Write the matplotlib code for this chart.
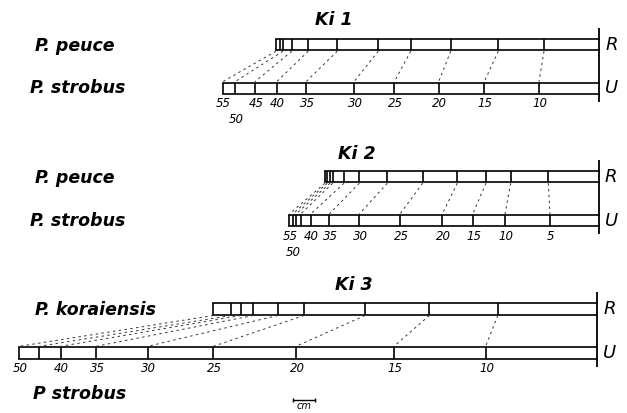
import matplotlib.pyplot as plt

# Ring boundaries along the stem (diagram units, left edge = pixel-ish position)
# R = rootstock (top bar), U = scion P. strobus (bottom bar)
ki1_r = [276, 283, 291.7, 308.3, 337.3, 378.3, 410.7, 450.7, 498.3, 544]
ki1_r_extra = [280]
ki1_u = [222.7, 235, 255, 276.7, 306, 354, 394.3, 438.7, 484.3, 539]
ki1_labels = ["55", "50", "45", "40", "35", "30", "25", "20", "15", "10"]
ki1_label_idx = [0, 1, 2, 3, 4, 5, 6, 7, 8, 9]
ki1_end = 599.3

ki2_r = [325, 327.3, 330, 332.7, 344, 359.3, 387.3, 422.7, 457.3, 486, 510.7, 548.3]
ki2_r_extra = []
ki2_u = [289.3, 292.7, 296, 300.7, 310.7, 329.3, 359.3, 400, 442.3, 472.7, 505, 550]
ki2_labels = ["55", "50", "40", "35", "30", "25", "20", "15", "10", "5"]
ki2_label_idx = [0, 1, 4, 5, 6, 7, 8, 9, 10, 11]
ki2_end = 598.7

ki3_r = [213.3, 230.7, 240.7, 253.3, 277.7, 304, 365, 429.3, 497.7]
ki3_r_extra = []
ki3_u = [19.3, 39.3, 60.7, 96, 147.7, 213.3, 296, 394, 485.7]
ki3_labels = ["50", "40", "35", "30", "25", "20", "15", "10"]
ki3_label_idx = [0, 2, 3, 4, 5, 6, 7, 8]
ki3_end = 597.3

titles = ["Ki 1", "Ki 2", "Ki 3"]
top_names = ["P. peuce", "P. peuce", "P. koraiensis"]
bottom_names = ["P. strobus", "P. strobus", "P strobus"]

panels = [
    dict(r=ki1_r, rx=ki1_r_extra, u=ki1_u, lab=ki1_labels, li=ki1_label_idx, end=ki1_end,
         ry=39, uy=82.7, title_xy=(334, 20), low=[1]),
    dict(r=ki2_r, rx=ki2_r_extra, u=ki2_u, lab=ki2_labels, li=ki2_label_idx, end=ki2_end,
         ry=171, uy=215, title_xy=(357, 154), low=[1]),
    dict(r=ki3_r, rx=ki3_r_extra, u=ki3_u, lab=ki3_labels, li=ki3_label_idx, end=ki3_end,
         ry=303.3, uy=347.3, title_xy=(354, 285), low=[]),
]
bar_h = 11.2

fig = plt.figure(figsize=(6.27, 4.13), dpi=100)
ax = fig.add_axes([0, 0, 1, 1])
ax.set_xlim(0, 627)
ax.set_ylim(413, 0)
ax.axis("off")

name_font = dict(family="DejaVu Sans", weight="bold", style="italic", fontsize=12.5)
num_font = dict(family="DejaVu Sans", style="italic", fontsize=8.5)
lw = 1.2


def draw_bar(x0, x1, y, dividers):
    ax.plot([x0, x1], [y, y], color="black", lw=lw)
    ax.plot([x0, x1], [y + bar_h, y + bar_h], color="black", lw=lw)
    ax.vlines([x0] + list(dividers), y, y + bar_h, color="black", lw=lw)


for i, p in enumerate(panels):
    end = p["end"]
    ry, uy = p["ry"], p["uy"]
    draw_bar(p["r"][0], end, ry, p["r"][1:] + p["rx"])
    draw_bar(p["u"][0], end, uy, p["u"][1:])
    # stem line on the right
    ax.vlines(end, ry - 11, uy + bar_h + 8, color="black", lw=1.3)
    ax.text(end + 6, ry + bar_h / 2, "R", ha="left", va="center",
            family="DejaVu Sans", style="italic", fontsize=13)
    ax.text(end + 6, uy + bar_h / 2, "U", ha="left", va="center",
            family="DejaVu Sans", style="italic", fontsize=13)
    # dashed connections between corresponding rings
    for xr, xu in zip(p["r"], p["u"]):
        ax.plot([xr, xu], [ry + bar_h + 1, uy - 1], color="#333333", lw=0.7,
                linestyle=(0, (2.5, 3.5)))
    # year labels under the U bar
    for k, (lab, idx) in enumerate(zip(p["lab"], p["li"])):
        dy = 16 if k in p["low"] else 0
        ax.text(p["u"][idx] + 1, uy + bar_h + 10 + dy, lab, ha="center", va="center", **num_font)
    ax.text(*p["title_xy"], titles[i], ha="center", va="center", **name_font)
    ax.text(35, ry + 7, top_names[i], ha="left", va="center", **name_font)

ax.text(30, 88, bottom_names[0], ha="left", va="center", **name_font)
ax.text(30, 221, bottom_names[1], ha="left", va="center", **name_font)
ax.text(33, 394, bottom_names[2], ha="left", va="center", **name_font)

# scale bar: 1 cm
ax.plot([293, 315], [400, 400], color="black", lw=1.0)
ax.vlines([293, 315], 398, 402, color="black", lw=1.0)
ax.text(304, 406, "cm", ha="center", va="center", family="DejaVu Sans", style="italic", fontsize=7)

fig.savefig("out.png", dpi=100)
